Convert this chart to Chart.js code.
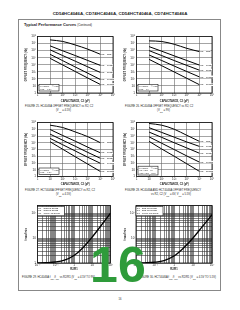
<!DOCTYPE html>
<html><head><meta charset="utf-8">
<script src="https://cdn.jsdelivr.net/npm/chart.js@4.4.1/dist/chart.umd.min.js"></script>
<style>
html,body{margin:0;padding:0;background:#fff;}
#page{position:relative;width:240px;height:310px;overflow:hidden;font-family:"Liberation Sans",Arial,sans-serif;color:#222;}
#page canvas{position:absolute;left:0;top:0;}
.t{position:absolute;white-space:nowrap;line-height:1;}
.big{position:absolute;font-family:"Liberation Sans",Arial,sans-serif;font-weight:bold;font-size:50px;line-height:50px;color:#2e9b3a;z-index:10;}
</style></head><body>
<div id="page">
  <div class="t" style="left:0;width:240px;text-align:center;top:11.5px;font-size:4.4px;font-weight:bold;">CD54HC4046A, CD74HC4046A, CD54HCT4046A, CD74HCT4046A</div>
  <div style="position:absolute;left:18px;top:19px;width:203px;height:272px;box-sizing:border-box;border:1px solid #888;"></div>
  <div class="t" style="left:24px;top:22.5px;font-size:3.9px;font-weight:bold;">Typical Performance Curves <span style="font-size:2.8px;font-weight:normal;">(Continued)</span></div>

  <div class="t" style="left:25px;top:106px;font-size:2.7px;">FIGURE 25. HC4046A OFFSET FREQUENCY vs R2, C2</div>
  <div class="t" style="left:25px;width:77px;text-align:center;top:110.2px;font-size:2.7px;">(V<sub style="font-size:2px">CC</sub> = 4.5V)</div>
  <div class="t" style="left:125px;top:106px;font-size:2.7px;">FIGURE 26. HC4046A OFFSET FREQUENCY vs R2, C2</div>
  <div class="t" style="left:125px;width:77px;text-align:center;top:110.2px;font-size:2.7px;">(V<sub style="font-size:2px">CC</sub> = 9V)</div>

  <div class="t" style="left:25px;top:189.5px;font-size:2.7px;">FIGURE 27. HCT4046A OFFSET FREQUENCY vs R2, C2</div>
  <div class="t" style="left:25px;width:77px;text-align:center;top:194px;font-size:2.7px;">(V<sub style="font-size:2px">CC</sub> = 4.5V)</div>
  <div class="t" style="left:125px;top:189.5px;font-size:2.7px;">FIGURE 28. HC4046A AND HCT4046A OFFSET FREQUENCY</div>
  <div class="t" style="left:125px;width:92px;text-align:center;top:194px;font-size:2.7px;">vs R2, C2 (V<sub style="font-size:2px">CC</sub> = 6V, V<sub style="font-size:2px">CC</sub> = 5.5V)</div>

  <div class="t" style="left:22px;top:277px;font-size:2.7px;">FIGURE 29. HC4046A f<sub style="font-size:2px">max</sub>/f<sub style="font-size:2px">min</sub> vs R2/R1 (V<sub style="font-size:2px">CC</sub> = 4.5V TO 9V)</div>
  <div class="t" style="left:139px;top:277px;font-size:2.7px;">FIGURE 30. HCT4046A f<sub style="font-size:2px">max</sub>/f<sub style="font-size:2px">min</sub> vs R2/R1 (V<sub style="font-size:2px">CC</sub> = 4.5V TO 5.5V)</div>

  <div class="t" style="left:0;width:240px;text-align:center;top:298.5px;font-size:2.6px;">16</div>
  <div class="big" style="left:90px;top:239.5px;">1</div>
  <div class="big" style="left:118px;top:239.5px;">6</div>
</div>
<script>
// ---------- DATA ----------
const capacitancePF = [10, 100, 1000, 10000, 100000];
const r2Labels = ['R2 = 3kΩ', 'R2 = 10kΩ', 'R2 = 30kΩ', 'R2 = 100kΩ', 'R2 = 300kΩ'];

const fig25_3k   = [3.3e7, 2.0e7, 6.3e6, 1.6e6, 3.0e5];
const fig25_10k  = [4.7e6, 9.5e5, 2.0e5, 4.0e4, 8.0e3];
const fig25_30k  = [1.3e6, 2.0e5, 3.2e4, 5.0e3, 8.0e2];
const fig25_100k = [3.0e5, 3.8e4, 4.8e3, 6.3e2, 8.0e1];
const fig25_300k = [8.0e4, 9.5e3, 1.1e3, 1.3e2, 1.6e1];

const fig26_3k   = [2.4e7, 1.95e7, 7.9e6, 2.1e6, 7.2e5];
const fig26_10k  = [3.7e6, 8.3e5, 1.8e5, 4.0e4, 8.9e3];
const fig26_30k  = [1.0e6, 2.0e5, 3.9e4, 8.0e3, 1.7e3];
const fig26_100k = [2.4e5, 4.0e4, 6.5e3, 1.1e3, 1.9e2];
const fig26_300k = [5.8e4, 7.4e3, 9.5e2, 1.2e2, 1.5e1];

const fig27_3k   = [4.0e7, 1.8e7, 4.0e6, 7.9e5, 1.0e5];
const fig27_10k  = [9.1e6, 1.2e6, 1.7e5, 2.2e4, 3.2e3];
const fig27_30k  = [1.9e6, 2.4e5, 3.0e4, 3.7e3, 5.0e2];
const fig27_100k = [4.4e5, 5.1e4, 6.0e3, 7.0e2, 9.1e1];
const fig27_300k = [1.4e5, 1.1e4, 8.5e2, 6.8e1, 5.5];

const fig28_3k   = [7.1e7, 4.0e7, 1.0e7, 1.26e6, 1.6e5];
const fig28_10k  = [1.7e7, 3.4e6, 6.7e5, 1.3e5, 2.9e4];
const fig28_30k  = [3.8e6, 6.3e5, 1.0e5, 1.7e4, 2.8e3];
const fig28_100k = [7.4e5, 8.5e4, 9.8e3, 1.1e3, 1.35e2];
const fig28_300k = [1.6e5, 1.2e4, 1.0e3, 7.6e1, 5.8];

const ratioR2R1 = [0.01, 0.03, 0.1, 0.3, 1, 3, 10, 30, 100];
const fig29_fmaxfmin = [1.0, 1.03, 1.1, 1.3, 2.0, 4.0, 11, 31, 100];
const fig30_fmaxfmin = [1.0, 1.02, 1.08, 1.25, 1.9, 3.8, 10, 28, 85];

const freqDecades = [1, 10, 100, 1e3, 1e4, 1e5, 1e6, 1e7, 1e8];
const capDecades  = [1, 10, 100, 1e3, 1e4, 1e5, 1e6];
const ratioDecades = [0.01, 0.1, 1, 10, 100];
const fmaxDecades = [1, 10, 100];
const mantissas = [1, 2, 3, 4, 5, 6, 7, 8, 9];

// ---------- HELPERS ----------
const FONT = '"Liberation Sans", Arial, sans-serif';
const SUP = {'-':'⁻','0':'⁰','1':'¹','2':'²','3':'³','4':'⁴','5':'⁵','6':'⁶','7':'⁷','8':'⁸','9':'⁹'};
function decadeLabel(v) {
  const e = Math.round(Math.log10(v));
  if (Math.abs(Math.log10(v) - e) > 1e-6) return '';
  if (e === 0) return '1';
  if (e === 1) return '10';
  return '10' + String(e).split('').map(c => SUP[c]).join('');
}
function denseTicks(decades, max) {
  const out = [];
  decades.forEach((d, i) => {
    if (i === decades.length - 1) { out.push(d); return; }
    mantissas.forEach(m => out.push(m * d));
  });
  if (max > out[out.length - 1]) out.push(max);
  return out;
}

const framePlugin = {
  id: 'frame',
  beforeDatasetsDraw(chart) {
    const a = chart.chartArea, ctx = chart.ctx;
    ctx.save(); ctx.strokeStyle = '#111'; ctx.lineWidth = 0.8;
    ctx.strokeRect(a.left, a.top, a.right - a.left, a.bottom - a.top);
    ctx.restore();
  }
};
const notePlugin = {
  id: 'note',
  afterDatasetsDraw(chart, args, o) {
    if (!o || !o.lines) return;
    const a = chart.chartArea, ctx = chart.ctx;
    const x = a.left + o.dx, y = o.fromTop ? a.top + o.dy : a.bottom - o.dy - o.h;
    ctx.save();
    ctx.fillStyle = '#fff'; ctx.fillRect(x, y, o.w, o.h);
    ctx.strokeStyle = '#111'; ctx.lineWidth = 0.6; ctx.strokeRect(x, y, o.w, o.h);
    ctx.fillStyle = '#222'; ctx.font = o.size + 'px ' + FONT; ctx.textBaseline = 'top';
    o.lines.forEach((l, i) => ctx.fillText(l, x + 0.8, y + 0.8 + i * o.size * 1.15));
    ctx.restore();
  }
};
const endLabelPlugin = {
  id: 'endLabels',
  afterDatasetsDraw(chart, args, o) {
    if (!o || !o.labels) return;
    const ctx = chart.ctx;
    ctx.save(); ctx.fillStyle = '#222'; ctx.font = o.size + 'px ' + FONT; ctx.textBaseline = 'middle';
    chart.data.datasets.forEach((ds, i) => {
      const meta = chart.getDatasetMeta(i);
      const p = meta.data[meta.data.length - 1];
      const txt = o.labels[i];
      const w = ctx.measureText(txt).width;
      ctx.fillStyle = '#fff'; ctx.fillRect(p.x + o.dx - 0.3, p.y + o.dy - o.size * 0.55, w + 0.6, o.size * 1.1);
      ctx.fillStyle = '#222'; ctx.fillText(txt, p.x + o.dx, p.y + o.dy);
    });
    ctx.restore();
  }
};

function makeChart(c) {
  const page = document.getElementById('page');
  const cv = document.createElement('canvas');
  cv.width = 240; cv.height = 310;
  page.appendChild(cv);
  const axis = (ticksArr, min, max, title, isX) => ({
    type: 'logarithmic', min: min, max: max,
    afterBuildTicks: s => { s.ticks = ticksArr.map(v => ({ value: v })); },
    afterFit: s => {
      if (isX) s.height = c.xh; else s.width = c.yw;
      s.paddingLeft = 0; s.paddingRight = 0; s.paddingTop = 0; s.paddingBottom = 0;
    },
    ticks: {
      callback: v => decadeLabel(v), autoSkip: false, maxRotation: 0, minRotation: 0,
      font: { size: 3, family: FONT }, color: '#222', padding: isX ? 0.8 : 1.6
    },
    grid: { color: c.gridColor, lineWidth: c.gridWidth, drawTicks: false },
    border: { display: false },
    title: { display: true, text: title, color: '#222', font: { size: 2.6, family: FONT, weight: 'bold' }, padding: 0 }
  });
  new Chart(cv, {
    type: 'line',
    data: {
      datasets: c.series.map(s => ({
        data: c.x.map((xv, j) => ({ x: xv, y: s[j] })),
        borderColor: '#000', borderWidth: c.lw, pointRadius: 0, fill: false,
        cubicInterpolationMode: 'monotone'
      }))
    },
    options: {
      responsive: false, animation: false, devicePixelRatio: 1,
      layout: { padding: { left: c.area.l - c.yw, top: c.area.t, right: 240 - c.area.r, bottom: 310 - c.area.b - c.xh } },
      plugins: {
        legend: { display: false }, tooltip: { enabled: false },
        endLabels: c.endLabels || {}, note: c.note || {}
      },
      scales: {
        x: axis(c.xTicks, c.xMin, c.xMax, c.xTitle, true),
        y: axis(c.yTicks, c.yMin, c.yMax, c.yTitle, false)
      }
    },
    plugins: [framePlugin, endLabelPlugin, notePlugin]
  });
}

const offsetCommon = {
  x: capacitancePF, xMin: 1, xMax: 1e6, yMin: 1, yMax: 1e8,
  xTicks: capDecades, yTicks: freqDecades,
  xTitle: 'CAPACITANCE, C2 (pF)', yTitle: 'OFFSET FREQUENCY (Hz)',
  yw: 12.5, xh: 9.5, lw: 1, gridColor: '#666', gridWidth: 0.6
};
const note2 = ['V(VCOin) = ½ VCC', 'VCC = 4.5V'];

makeChart(Object.assign({}, offsetCommon, {
  area: { l: 37.5, r: 113, t: 36.5, b: 93 },
  series: [fig25_3k, fig25_10k, fig25_30k, fig25_100k, fig25_300k],
  endLabels: { labels: r2Labels, size: 2.4, dx: 0.8, dy: 0 },
  note: { lines: note2, size: 2.2, dx: 1.5, dy: 2, w: 20, h: 6.5 }
}));
makeChart(Object.assign({}, offsetCommon, {
  area: { l: 136.5, r: 212, t: 36.5, b: 93 },
  series: [fig26_3k, fig26_10k, fig26_30k, fig26_100k, fig26_300k],
  endLabels: { labels: r2Labels, size: 2.4, dx: 0.8, dy: 0 },
  note: { lines: ['V(VCOin) = ½ VCC', 'VCC = 9V'], size: 2.2, dx: 1.5, dy: 2, w: 20, h: 6.5 }
}));
makeChart(Object.assign({}, offsetCommon, {
  area: { l: 37.5, r: 113, t: 122.5, b: 176.5 },
  series: [fig27_3k, fig27_10k, fig27_30k, fig27_100k, fig27_300k],
  endLabels: { labels: r2Labels, size: 2.4, dx: 0.8, dy: 0 },
  note: { lines: note2, size: 2.2, dx: 1.5, dy: 2, w: 20, h: 6.5 }
}));
makeChart(Object.assign({}, offsetCommon, {
  area: { l: 136.5, r: 212, t: 122.5, b: 176.5 },
  series: [fig28_3k, fig28_10k, fig28_30k, fig28_100k, fig28_300k],
  endLabels: { labels: r2Labels, size: 2.4, dx: 0.8, dy: 0 },
  note: { lines: ['V(VCOin) = ½ VCC', 'HC: VCC = 6V', 'HCT: VCC = 5.5V'], size: 2.2, dx: 1.5, dy: 1.5, w: 20, h: 8.8 }
}));

const ratioCommon = {
  x: ratioR2R1, xMin: 0.01, xMax: 100, yMin: 1, yMax: 200,
  xTicks: denseTicks(ratioDecades, 100), yTicks: denseTicks(fmaxDecades, 200),
  xTitle: 'R2/R1', yTitle: 'fmax/fmin',
  yw: 12.5, xh: 8, lw: 1.3, gridColor: '#333', gridWidth: 0.6
};
const ratioNote = ['R1 = 3kΩ TO 300kΩ', 'R2 = 3kΩ TO 300kΩ', 'C1 = 100pF TO 200nF'];
makeChart(Object.assign({}, ratioCommon, {
  area: { l: 37.5, r: 110.5, t: 205.5, b: 263 },
  series: [fig29_fmaxfmin],
  note: { lines: ratioNote, size: 2.2, dx: 0, dy: 0.8, w: 27, h: 9.5, fromTop: true }
}));
makeChart(Object.assign({}, ratioCommon, {
  area: { l: 136, r: 212, t: 205.5, b: 263 },
  series: [fig30_fmaxfmin],
  note: { lines: ratioNote, size: 2.2, dx: 0, dy: 0.8, w: 27, h: 9.5, fromTop: true }
}));
</script>
</body></html>
